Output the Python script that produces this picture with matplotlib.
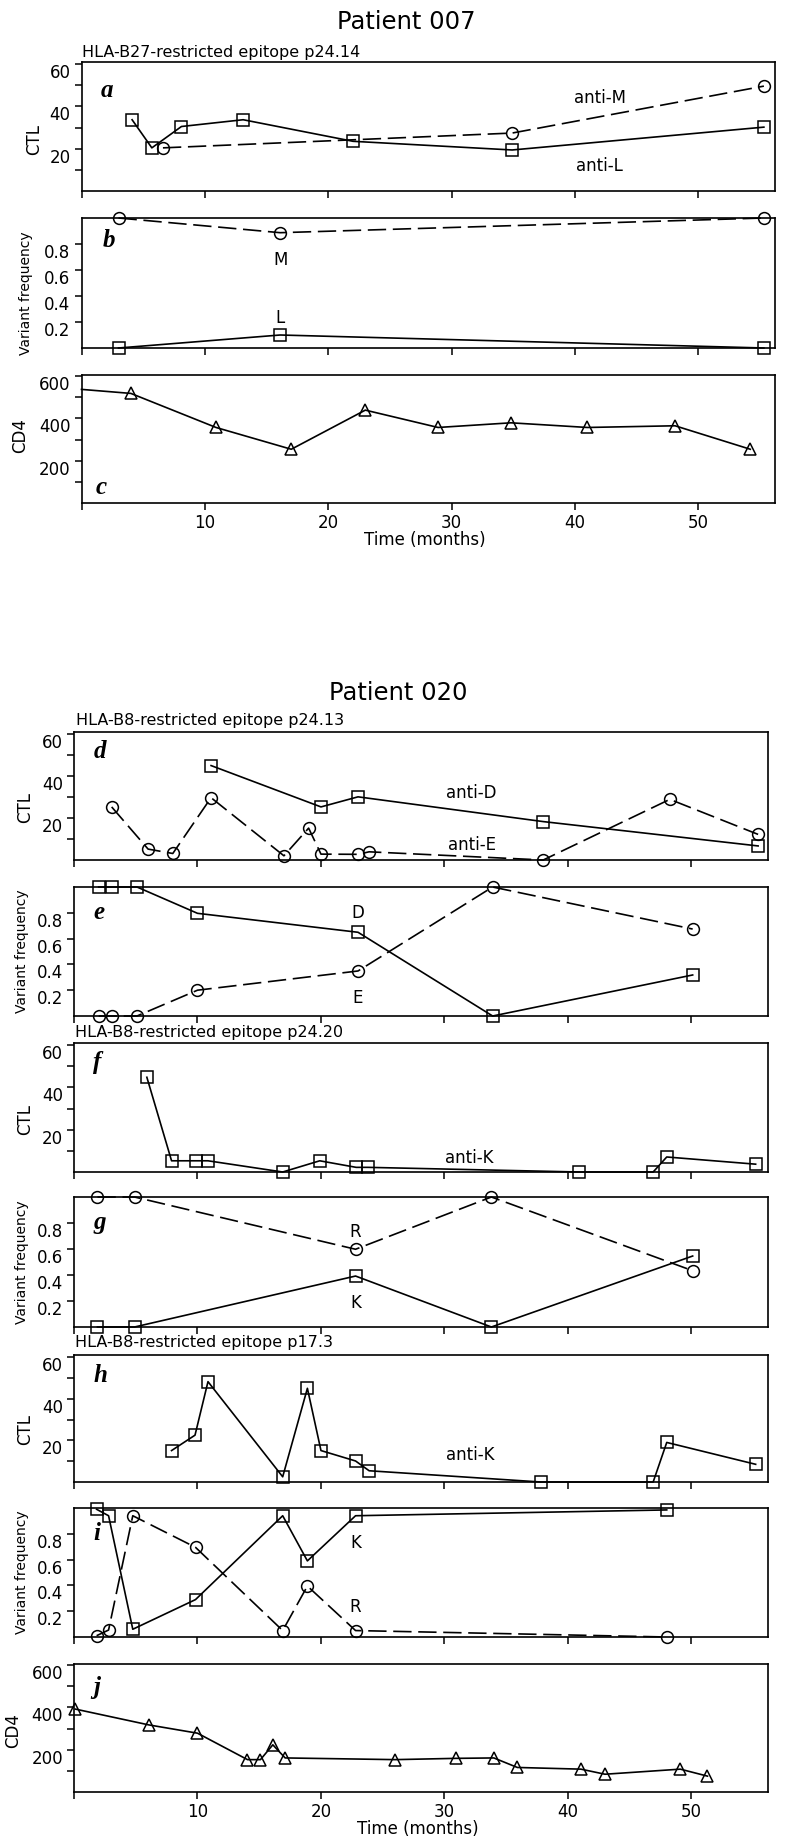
import matplotlib.pyplot as plt
from matplotlib.ticker import FixedLocator

plt.rcParams['font.family'] = ['DejaVu Sans']

# ---- Patient 007, epitope p24.14 ----
a_L_t = [4.1, 5.7, 8.1, 13.1, 22.0, 34.9, 55.3]
a_L = [33.7, 20.4, 30.5, 33.7, 23.5, 19.4, 30.2]
a_M_t = [6.6, 34.9, 55.3]
a_M = [20.4, 27.4, 49.6]

b_t = [3.0, 16.1, 55.3]
b_M = [1.0, 0.887, 1.0]
b_L = [0.0, 0.10, 0.0]

c_t = [0.0, 4.0, 10.9, 17.0, 23.0, 28.9, 34.8, 41.0, 48.1, 54.2]
c_cd4 = [537, 518, 357, 254, 439, 357, 379, 357, 365, 254]

# ---- Patient 020, epitope p24.13 ----
d_D_t = [11.1, 20.0, 23.0, 38.0, 55.4]
d_D = [45.0, 25.3, 30.1, 18.3, 6.7]
d_E_t = [3.05, 6.0, 8.0, 11.1, 17.0, 19.0, 20.0, 23.0, 23.9, 38.0, 48.25, 55.4]
d_E = [25.3, 5.2, 3.1, 29.7, 2.0, 15.2, 2.8, 2.7, 3.9, 0.0, 28.9, 12.2]

e_t = [2.0, 3.05, 5.1, 10.0, 23.0, 33.9, 50.1]
e_D = [1.0, 1.0, 1.0, 0.796, 0.649, 0.0, 0.318]
e_E = [0.0, 0.0, 0.0, 0.20, 0.349, 1.0, 0.674]

# ---- epitope p24.20 ----
f_t = [5.9, 7.9, 9.9, 10.85, 16.9, 19.9, 22.85, 23.8, 40.9, 46.9, 48.0, 55.2]
f_K = [44.8, 5.3, 5.3, 5.3, 0.0, 5.3, 2.2, 2.2, 0.0, 0.0, 7.1, 3.7]

g_t = [1.9, 4.9, 22.8, 33.8, 50.1]
g_R = [1.0, 1.0, 0.598, 1.0, 0.433]
g_K = [0.0, 0.0, 0.392, 0.0, 0.546]

# ---- epitope p17.3 ----
h_t = [7.9, 9.8, 10.85, 16.9, 18.9, 20.0, 22.8, 23.9, 37.8, 46.9, 48.0, 55.2]
h_K = [15.1, 22.5, 48.2, 2.5, 45.0, 15.1, 10.1, 5.4, 0.0, 0.0, 19.0, 8.5]

i_t = [1.83, 2.8, 4.76, 9.84, 16.9, 18.9, 22.8, 48.0]
i_K = [0.99, 0.94, 0.06, 0.29, 0.94, 0.59, 0.94, 0.985]
i_R = [0.01, 0.054, 0.94, 0.695, 0.05, 0.395, 0.05, 0.0]

j_t = [0.1, 6.07, 10.0, 14.05, 15.1, 16.1, 17.1, 26.0, 30.9, 34.0, 35.9, 41.05, 43.0, 49.1, 51.3]
j_cd4 = [392, 317, 278, 153, 153, 223, 161, 153, 159, 161, 116, 108, 84, 108, 75]

W, H = 793, 1838
fig = plt.figure(figsize=(W / 100, H / 100), dpi=100)


def add_panel(left, right, top, bottom):
    return fig.add_axes([left / W, 1 - bottom / H, (right - left) / W, (bottom - top) / H])


def style(ax, kind, letter, letter_pos, ylab_pos, xlabels=False):
    ax.set_xlim(0, 56.2)
    ax.xaxis.set_major_locator(FixedLocator([0, 10, 20, 30, 40, 50]))
    ax.tick_params(direction='out', length=5, width=1.1, labelsize=12, pad=3)
    ax.tick_params(which='minor', direction='out', length=5, width=1.1)
    if xlabels:
        ax.set_xticklabels(['', '10', '20', '30', '40', '50'])
        ax.set_xlabel('Time (months)', fontsize=12)
        ax.xaxis.set_label_coords(0.495, -0.22)
    else:
        ax.tick_params(axis='x', labelbottom=False)
    if kind == 'ctl':
        ax.set_ylim(0, 61)
        ax.set_yticks([20, 40, 60])
        ax.set_yticklabels(['20', '40', '60'], va='top')
        ax.yaxis.set_minor_locator(FixedLocator([10, 30, 50]))
        ax.set_ylabel('CTL', fontsize=12)
    elif kind == 'freq':
        ax.set_ylim(0, 1)
        ax.set_yticks([0.2, 0.4, 0.6, 0.8])
        ax.set_yticklabels(['0.2', '0.4', '0.6', '0.8'], va='top')
        ax.set_ylabel('Variant frequency', fontsize=10)
    else:
        ax.set_ylim(0, 605)
        ax.set_yticks([200, 400, 600])
        ax.set_yticklabels(['200', '400', '600'], va='top')
        ax.yaxis.set_minor_locator(FixedLocator([100, 300, 500]))
        ax.set_ylabel('CD4', fontsize=12)
    ax.yaxis.set_label_coords(*ylab_pos)
    for s in ax.spines.values():
        s.set_linewidth(1.2)
    ax.text(letter_pos[0], letter_pos[1], letter, transform=ax.transAxes,
            family='Liberation Serif', style='italic', weight='bold',
            fontsize=18, va='center', ha='left')


def series(ax, t, v, marker, dashed, **kw):
    ls = (0, (11, 4)) if dashed else '-'
    ax.plot(t, v, color='black', lw=1.2, ls=ls, marker=marker, ms=8.5,
            mfc='none', mec='black', mew=1.1, clip_on=False, **kw)


def note(ax, x, y, s):
    ax.text(x, y, s, fontsize=12, ha='center', va='center')


UL, UR = 81.5, 775
LL, LR = 74, 768

# titles
fig.text(0.512, 1 - 22 / H, 'Patient 007', ha='center', va='center', fontsize=17.5)
fig.text(UL / W, 1 - 52 / H, 'HLA-B27-restricted epitope p24.14', ha='left', va='center', fontsize=11.5)
fig.text(0.502, 1 - 693 / H, 'Patient 020', ha='center', va='center', fontsize=17.5)
fig.text(76 / W, 1 - 721 / H, 'HLA-B8-restricted epitope p24.13', ha='left', va='center', fontsize=11.5)
fig.text(75 / W, 1 - 1032 / H, 'HLA-B8-restricted epitope p24.20', ha='left', va='center', fontsize=11.5)
fig.text(75 / W, 1 - 1343 / H, 'HLA-B8-restricted epitope p17.3', ha='left', va='center', fontsize=11.5)

# a
ax = add_panel(UL, UR, 62, 191)
series(ax, a_L_t, a_L, 's', False)
series(ax, a_M_t, a_M, 'o', True)
note(ax, 42, 43.8, 'anti-M')
note(ax, 42, 11.9, 'anti-L')
style(ax, 'ctl', 'a', (0.028, 0.78), (-0.055, 0.40))

# b
ax = add_panel(UL, UR, 218, 348)
series(ax, b_t, b_M, 'o', True)
series(ax, b_t, b_L, 's', False)
note(ax, 16.1, 0.68, 'M')
note(ax, 16.1, 0.23, 'L')
style(ax, 'freq', 'b', (0.03, 0.83), (-0.07, 0.42))

# c
ax = add_panel(UL, UR, 375, 503)
series(ax, c_t, c_cd4, '^', False, markevery=list(range(1, len(c_t))))
style(ax, 'cd4', 'c', (0.02, 0.12), (-0.075, 0.53), xlabels=True)

# d
ax = add_panel(LL, LR, 732, 860)
series(ax, d_D_t, d_D, 's', False)
series(ax, d_E_t, d_E, 'o', True)
note(ax, 32.2, 32.0, 'anti-D')
note(ax, 32.2, 7.0, 'anti-E')
style(ax, 'ctl', 'd', (0.028, 0.85), (-0.057, 0.41))

# e
ax = add_panel(LL, LR, 887, 1016)
series(ax, e_t, e_D, 's', False)
series(ax, e_t, e_E, 'o', True)
note(ax, 23.0, 0.80, 'D')
note(ax, 23.0, 0.14, 'E')
style(ax, 'freq', 'e', (0.028, 0.80), (-0.065, 0.50))

# f
ax = add_panel(LL, LR, 1043, 1172)
series(ax, f_t, f_K, 's', False)
note(ax, 32.0, 6.4, 'anti-K')
style(ax, 'ctl', 'f', (0.028, 0.85), (-0.057, 0.41))

# g
ax = add_panel(LL, LR, 1197, 1327)
series(ax, g_t, g_R, 'o', True)
series(ax, g_t, g_K, 's', False)
note(ax, 22.8, 0.733, 'R')
note(ax, 22.8, 0.187, 'K')
style(ax, 'freq', 'g', (0.028, 0.80), (-0.065, 0.50))

# h
ax = add_panel(LL, LR, 1355, 1482)
series(ax, h_t, h_K, 's', False)
note(ax, 32.1, 12.8, 'anti-K')
style(ax, 'ctl', 'h', (0.028, 0.84), (-0.057, 0.41))

# i
ax = add_panel(LL, LR, 1508, 1637)
series(ax, i_t, i_K, 's', False)
series(ax, i_t, i_R, 'o', True)
note(ax, 22.8, 0.726, 'K')
note(ax, 22.8, 0.235, 'R')
style(ax, 'freq', 'i', (0.028, 0.80), (-0.065, 0.50))

# j
ax = add_panel(LL, LR, 1664, 1792)
series(ax, j_t, j_cd4, '^', False)
style(ax, 'cd4', 'j', (0.028, 0.82), (-0.075, 0.48), xlabels=True)

fig.savefig('out.png', dpi=100)
